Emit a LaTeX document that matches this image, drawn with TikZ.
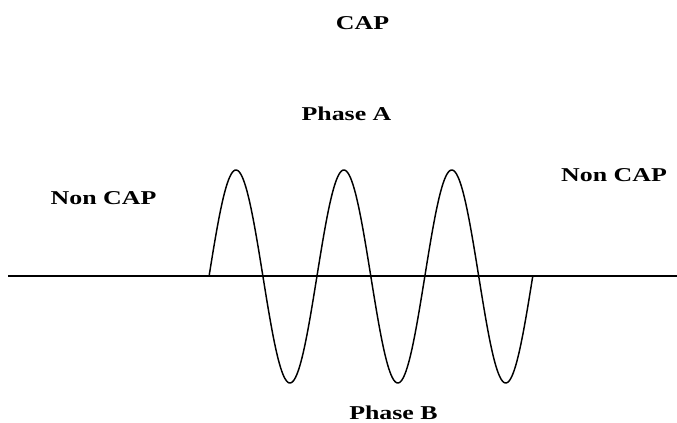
\documentclass[tikz,border=0pt]{standalone}
\usepackage{fontspec}
\setmainfont{Liberation Serif}
\begin{document}
\begin{tikzpicture}[x=0.75pt,y=-0.75pt,
  lbl/.style={anchor=base,inner sep=0pt,font=\fontsize{14.7}{16}\selectfont\bfseries},
  axisline/.style={line width=1.5pt},
  wave/.style={line width=1.1pt,line join=round}]
\useasboundingbox (0,0) rectangle (677,423);
\fill[white] (0,0) rectangle (677,423);
\coordinate (axL) at (8,276.5);
\coordinate (axR) at (677,276.5);
\draw[axisline] (axL) -- (axR);
\draw[wave] plot[domain=209:532.7,samples=300,smooth] (\x,{276.5-106.5*sin((\x-209)/107.9*360)});
\node[lbl] (cap) at (362.5,30) {\scalebox{1.32}[1]{CAP}};
\node[lbl] (pa) at (346.5,121) {\scalebox{1.32}[1]{Phase A}};
\node[lbl] (ncl) at (103.5,205) {\scalebox{1.32}[1]{Non CAP}};
\node[lbl] (ncr) at (614,181.7) {\scalebox{1.32}[1]{Non CAP}};
\node[lbl] (pb) at (393.5,419) {\scalebox{1.32}[1]{Phase B}};
\end{tikzpicture}
\end{document}
